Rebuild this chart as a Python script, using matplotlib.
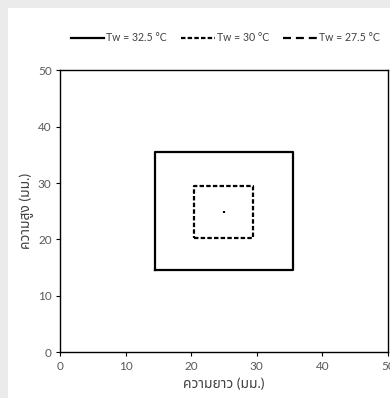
import matplotlib
matplotlib.use("Agg")
import matplotlib.pyplot as plt
from matplotlib.patches import Rectangle

plt.rcParams['font.family'] = ['Lato', 'Noto Sans Thai', 'DejaVu Sans']

# outline of each temperature contour (mm)
x_325 = [14.5, 35.5, 35.5, 14.5, 14.5]
y_325 = [14.5, 14.5, 35.5, 35.5, 14.5]
x_30 = [20.5, 29.5, 29.5, 20.5, 20.5]
y_30 = [20.3, 20.3, 29.5, 29.5, 20.3]
x_275 = [25.0, 25.0]
y_275 = [24.6, 25.1]

labels = ["Tw = 32.5 °C", "Tw = 30 °C", "Tw = 27.5 °C"]
ticks = [0, 10, 20, 30, 40, 50]

fig = plt.figure(figsize=(3.9, 3.98), dpi=100, facecolor='#ebebeb')
fig.patches.append(Rectangle((8 / 390, 0), 1, 1 - 8 / 398, transform=fig.transFigure,
                             facecolor='white', edgecolor='none', zorder=-5))

ax = fig.add_axes([0.1538, 0.1148, 0.841, 0.709])
ax.plot(x_325, y_325, color='black', lw=1.6, ls='-', label=labels[0])
ax.plot(x_30, y_30, color='black', lw=1.6, ls=(0, (2, 1)), label=labels[1])
ax.plot(x_275, y_275, color='black', lw=1.6, ls=(0, (3.6, 2.2)), label=labels[2])

ax.set_xlim(0, 50)
ax.set_ylim(0, 50)
ax.set_xticks(ticks)
ax.set_yticks(ticks)
ax.tick_params(direction='out', length=3, width=0.8, labelsize=8.5,
               labelcolor='#595959', pad=3)
for s in ax.spines.values():
    s.set_linewidth(1.0)
    s.set_color('black')

ax.set_xlabel("ความยาว (มม.)", fontsize=10, color='#404040', labelpad=4)
ax.set_ylabel("ความสูง (มม.)", fontsize=10, color='#404040', labelpad=3)

fig.legend(loc='center', bbox_to_anchor=(0.577, 0.905), ncol=3, frameon=False,
           fontsize=7.6, handlelength=3.2, handletextpad=0.2, columnspacing=1.3,
           labelcolor='#404040')

fig.savefig("out.png", dpi=100, facecolor=fig.get_facecolor())
